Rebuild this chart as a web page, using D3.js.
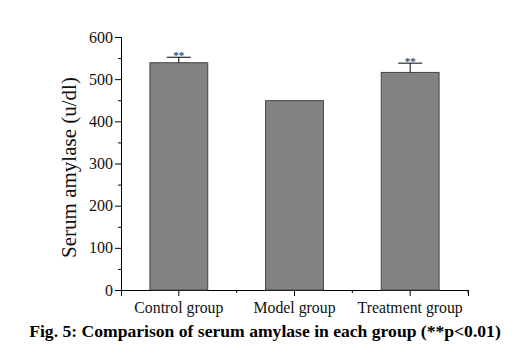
<!DOCTYPE html>
<html>
<head>
<meta charset="utf-8">
<script src="https://cdn.jsdelivr.net/npm/d3@7"></script>
<style>
  body { margin: 0; background: #fff; }
  text { font-family: "Liberation Serif", "Times New Roman", serif; }
</style>
</head>
<body>
<div id="chart"></div>
<script>
// data
var groups = ["Control group", "Model group", "Treatment group"]
var amylase = [539, 449, 516]
var errors = [13, 0, 22]
var marks = ["**", "", "**"]
var yTicks = [0, 100, 200, 300, 400, 500, 600]

var margin = { top: 37, right: 56, bottom: 65, left: 121 },
    width = 524 - margin.left - margin.right,
    height = 355 - margin.top - margin.bottom;

var rows = groups.map((g, i) => ({ group: g, value: amylase[i], err: errors[i], mark: marks[i] }))

var svg = d3.select("#chart")
    .append("svg")
    .attr("width", 524)
    .attr("height", 355)
    .append("g")
    .attr("transform", "translate(" + margin.left + "," + margin.top + ")");

var x = d3.scaleBand()
    .domain(groups)
    .range([0, width])
    .paddingInner(0.5)
    .paddingOuter(0.25)

var y = d3.scaleLinear()
    .domain([0, 600])
    .range([height, 0]);

var cx = d => x(d.group) + x.bandwidth() / 2

// minor ticks on y
var yMinor = d3.range(50, 600, 100)
svg.append("g")
    .call(d3.axisLeft(y).tickValues(yMinor).tickSize(3).tickFormat(""))
    .call(g => g.select(".domain").remove())

var yAxis = svg.append("g")
    .call(d3.axisLeft(y).tickValues(yTicks).tickSize(6).tickPadding(2))
yAxis.selectAll("text").style("font-size", "16px").attr("fill", "#111")

// x axis with ticks at category centres and minor ticks between
var xAxis = svg.append("g")
    .attr("transform", "translate(0," + height + ")")
    .call(d3.axisBottom(x).tickSize(6).tickPadding(6))
xAxis.selectAll("text").style("font-size", "15.8px").attr("fill", "#111")

var step = x.step()
svg.append("g")
    .selectAll("line")
    .data(rows)
    .enter()
    .append("line")
    .attr("x1", d => cx(d) + step / 2).attr("x2", d => cx(d) + step / 2)
    .attr("y1", height).attr("y2", height + 3)
    .attr("stroke", "#000")

// bars
svg.selectAll("rect.bar")
    .data(rows)
    .enter()
    .append("rect")
    .attr("class", "bar")
    .attr("x", d => x(d.group))
    .attr("y", d => y(d.value))
    .attr("width", x.bandwidth())
    .attr("height", d => height - y(d.value))
    .attr("fill", "#828282")
    .attr("stroke", "#444")
    .attr("stroke-width", 1)

// error bars (upper half only)
var eb = svg.selectAll("g.err")
    .data(rows.filter(d => d.err > 0))
    .enter()
    .append("g")
    .attr("class", "err")
eb.append("line")
    .attr("x1", cx).attr("x2", cx)
    .attr("y1", d => y(d.value))
    .attr("y2", d => y(d.value + d.err))
    .attr("stroke", "#000")
eb.append("line")
    .attr("x1", d => cx(d) - 12)
    .attr("x2", d => cx(d) + 12)
    .attr("y1", d => y(d.value + d.err))
    .attr("y2", d => y(d.value + d.err))
    .attr("stroke", "#000")

// significance marks
svg.selectAll("text.sig")
    .data(rows)
    .enter()
    .append("text")
    .attr("class", "sig")
    .attr("x", cx)
    .attr("y", d => y(d.value + d.err) + 2)
    .attr("text-anchor", "middle")
    .style("font-size", "11px")
    .style("font-weight", "bold")
    .attr("fill", "#2a4a7a")
    .text(d => d.mark)

// y label
svg.append("text")
    .attr("transform", "translate(-45," + (height / 2 + 4) + ") rotate(-90)")
    .attr("text-anchor", "middle")
    .style("font-size", "21px")
    .attr("fill", "#111")
    .text("Serum amylase (u/dl)")

// caption
d3.select("svg").append("text")
    .attr("x", 265)
    .attr("y", 337)
    .attr("text-anchor", "middle")
    .style("font-size", "17.6px")
    .style("font-weight", "bold")
    .attr("fill", "#000")
    .text("Fig. 5: Comparison of serum amylase in each group (**p<0.01)")
</script>
</body>
</html>
